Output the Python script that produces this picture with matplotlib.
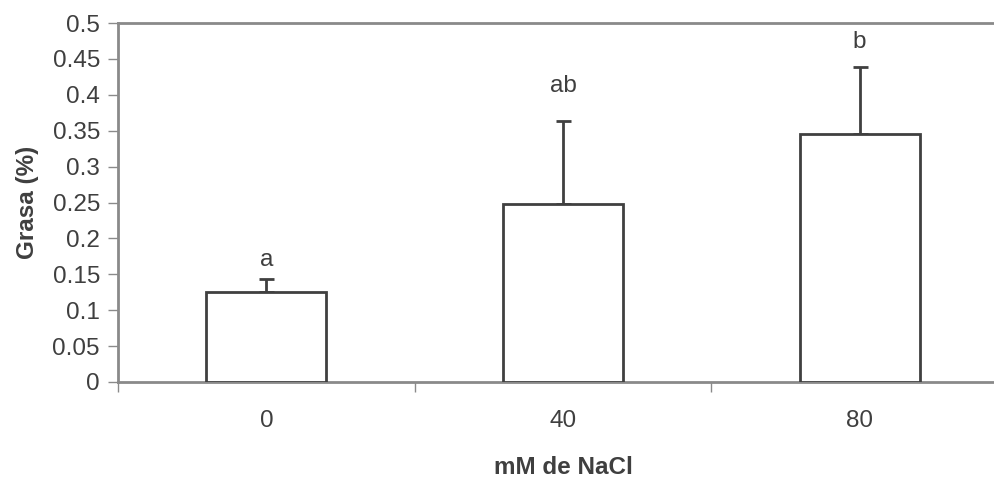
import matplotlib
matplotlib.use('Agg')
import matplotlib.pyplot as plt
import numpy as np

# data
categories = ['0', '40', '80']
grasa = [0.125, 0.248, 0.346]
err_up = [0.018, 0.116, 0.093]
letters = ['a', 'ab', 'b']
letter_y = [0.162, 0.404, 0.465]

plt.rcParams['font.family'] = ['Liberation Sans', 'DejaVu Sans']
txtcol = '#3f3f3f'
axcol = '#8a8a8a'
fs = 17.5

fig = plt.figure(figsize=(9.94, 4.79), dpi=100)
ax = fig.add_axes([118/994., 97/479., 890/994., 359/479.])

x = np.arange(len(categories))
ax.bar(x, grasa, width=0.405, color='white', edgecolor='#404040', linewidth=2, zorder=3)
ax.errorbar(x, grasa, yerr=[np.zeros(len(x)), err_up], fmt='none', ecolor='#404040',
            elinewidth=2, capsize=5.4, capthick=2, zorder=2)
for xi, lab, ly in zip(x, letters, letter_y):
    ax.text(xi, ly, lab, ha='center', va='baseline', fontsize=fs, color=txtcol)

ax.set_xlim(-0.5, len(categories) - 0.5)
ax.set_ylim(0, 0.5)
ax.set_yticks(np.arange(0, 0.501, 0.05))
ax.set_yticklabels(['0', '0.05', '0.1', '0.15', '0.2', '0.25', '0.3', '0.35', '0.4', '0.45', '0.5'])
ax.set_xticks(x)
ax.set_xticklabels(categories)
ax.set_xticks(np.arange(-0.5, len(categories), 1.0), minor=True)
ax.tick_params(axis='x', which='major', length=0, pad=20, labelsize=fs, labelcolor=txtcol)
ax.tick_params(axis='x', which='minor', length=7, width=1, color=axcol, direction='out')
ax.tick_params(axis='y', length=7, width=1, color=axcol, pad=6, labelsize=fs, labelcolor=txtcol)

for s in ['left', 'top', 'bottom', 'right']:
    ax.spines[s].set_color(axcol)
    ax.spines[s].set_linewidth(2)

ax.set_ylabel('Grasa (%)', fontsize=fs, fontweight='bold', color=txtcol, labelpad=10)
fig.text(563/994., 1 - 467/479., 'mM de NaCl', ha='center', va='center',
         fontsize=fs, fontweight='bold', color=txtcol)

fig.savefig('out.png', dpi=100)
